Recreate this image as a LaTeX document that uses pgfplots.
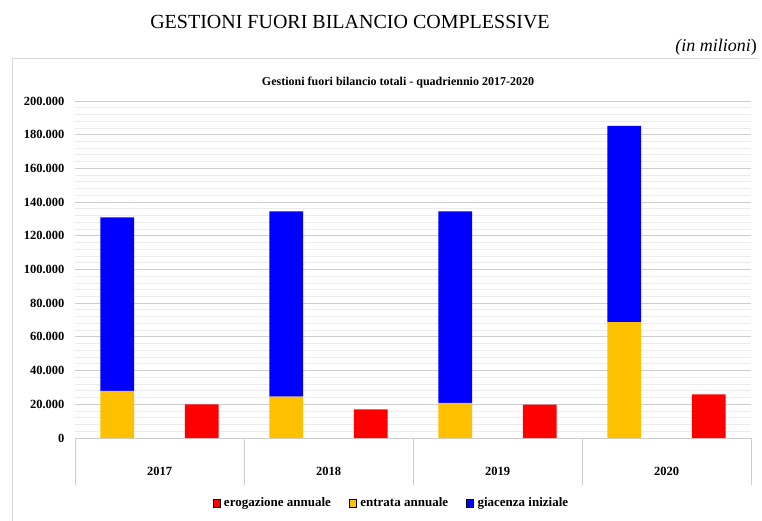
\documentclass[border=0pt]{standalone}
\usepackage{pgfplots}
\pgfplotsset{compat=1.18}
\usepackage{fontspec}
\setmainfont{Liberation Serif}
\definecolor{ered}{RGB}{255,0,0}
\definecolor{eyel}{RGB}{255,192,0}
\definecolor{eblue}{RGB}{0,0,255}
\definecolor{majg}{RGB}{205,205,205}
\definecolor{ming}{RGB}{236,236,236}
\definecolor{frameg}{RGB}{215,215,215}
\pgfplotsset{
  base/.style={
    scale only axis, width=676pt, height=337pt,
    at={(75pt,-438pt)}, anchor=south west,
    xmin=-0.5, xmax=3.5, ymin=0, ymax=200000,
  }
}
\begin{document}
\begin{tikzpicture}[x=1pt,y=1pt]
\useasboundingbox (0,0) rectangle (762,-520);
\draw[frameg, line width=1pt] (12,-525) -- (12,-58) -- (757,-58);
\node[font=\fontsize{20}{24}\selectfont] at (350,-22) {GESTIONI FUORI BILANCIO COMPLESSIVE};
\node[font=\fontsize{18}{22}\selectfont, anchor=east, inner sep=0pt] at (757,-47) {\textit{(in milioni})};
\node[font=\bfseries\fontsize{12}{14}\selectfont] at (398,-83) {Gestioni fuori bilancio totali - quadriennio 2017-2020};

\begin{axis}[base, clip=false,
  axis line style={draw=none},
  xtick={0,1,2,3}, xticklabels={2017,2018,2019,2020},
  x tick style={draw=none},
  xticklabel style={font=\bfseries\fontsize{12.5}{14}\selectfont, yshift=-26pt},
  ytick distance=20000, minor y tick num=4,
  y tick style={draw=none},
  ymajorgrids, yminorgrids,
  major grid style={majg, line width=1pt},
  minor grid style={ming, line width=0.9pt},
  scaled y ticks=false,
  yticklabel style={font=\bfseries\fontsize{12.5}{14}\selectfont, xshift=-7pt,
    /pgf/number format/.cd, fixed, 1000 sep={.}, assume math mode=true},
  legend columns=3,
  legend style={draw=none, fill=none, font=\bfseries\fontsize{13}{15}\selectfont,
    at={(0.468,-0.193)}, anchor=center,
    /tikz/every odd column/.append style={column sep=2pt},
    /tikz/every even column/.append style={column sep=16pt}},
  legend image code/.code={\fill[#1] (0pt,-4pt) rectangle (7pt,4pt);},
]
\addlegendimage{fill=ered}
\addlegendentry{erogazione annuale}
\addlegendimage{fill=eyel}
\addlegendentry{entrata annuale}
\addlegendimage{fill=eblue}
\addlegendentry{giacenza iniziale}
\addplot[ybar, bar width=0.2, bar shift=0pt, fill=ered, draw=none, forget plot]
  coordinates {(0.25,20000) (1.25,17000) (2.25,19800) (3.25,25900)};
\draw[majg, line width=1pt] (axis cs:-0.5,0) -- ([yshift=-47pt]axis cs:-0.5,0);
\draw[majg, line width=1pt] (axis cs:0.5,0) -- ([yshift=-47pt]axis cs:0.5,0);
\draw[majg, line width=1pt] (axis cs:1.5,0) -- ([yshift=-47pt]axis cs:1.5,0);
\draw[majg, line width=1pt] (axis cs:2.5,0) -- ([yshift=-47pt]axis cs:2.5,0);
\draw[majg, line width=1pt] (axis cs:3.5,0) -- ([yshift=-47pt]axis cs:3.5,0);
\end{axis}

\begin{axis}[base, hide axis, ybar stacked, bar width=0.2]
\addplot[fill=eyel, draw=none]
  coordinates {(-0.25,27900) (0.75,24500) (1.75,20900) (2.75,68800)};
\addplot[fill=eblue, draw=none]
  coordinates {(-0.25,103100) (0.75,110000) (1.75,113600) (2.75,116400)};
\end{axis}
\end{tikzpicture}
\end{document}
